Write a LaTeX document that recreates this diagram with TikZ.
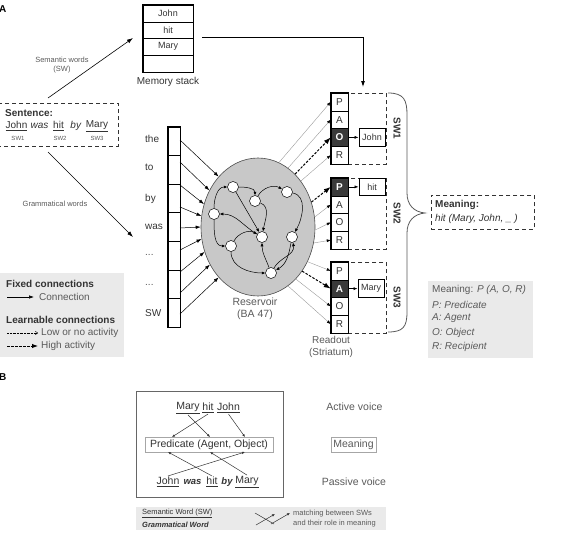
\documentclass[tikz,border=0pt]{standalone}
\usepackage{fontspec}
\setmainfont{Liberation Sans}
\usetikzlibrary{shapes.geometric,arrows.meta}
\definecolor{txt}{HTML}{333333}
\definecolor{lbl}{HTML}{5A5A5A}
\definecolor{legbg}{HTML}{EAEAEA}
\definecolor{resfill}{HTML}{C8C8C8}
\definecolor{darkcell}{HTML}{3A3A3A}
\definecolor{thinc}{HTML}{9A9A9A}
\tikzset{
  fs/.style={font=\fontsize{10}{12}\selectfont},
  fsb/.style={font=\bfseries\fontsize{10}{12}\selectfont},
  small/.style={font=\fontsize{7.5}{9}\selectfont, text=lbl},
  arr/.style={-{Latex[length=6pt,width=4pt]}, line width=0.6pt, draw=black},
  cell/.style={draw, line width=0.5pt, minimum width=17pt, minimum height=17.75pt, inner sep=0pt, font=\fontsize{10}{12}\selectfont, text=txt},
  darkc/.style={fill=darkcell, text=white, font=\bfseries\fontsize{10}{12}\selectfont},
  weak/.style={draw=thinc, line width=0.4pt, -{Latex[length=4pt,width=3pt,color=black]}},
  strong/.style={draw=black, line width=1pt, dash pattern=on 2.5pt off 1.5pt, -{Latex[length=7pt,width=5pt]}},
  neuron/.style={circle, draw, fill=white, minimum size=11pt, inner sep=0pt, line width=0.5pt},
  net/.style={line width=0.5pt, -{Latex[length=3.5pt,width=3pt]}},
  valbox/.style={draw, line width=0.8pt, minimum width=26pt, minimum height=17.75pt, inner sep=0pt, font=\fontsize{9}{11}\selectfont, text=txt},
  dbox/.style={draw, dash pattern=on 4pt off 3pt, line width=0.6pt, draw=black!80, minimum width=38pt, minimum height=71pt, anchor=north west, inner sep=0pt},
  word/.style={inner sep=1pt, font=\fontsize{10}{12}\selectfont, text=txt},
  bword/.style={inner sep=1pt, font=\fontsize{10.5}{12}\selectfont, text=txt},
  bl/.style={line width=0.5pt, draw=txt, -{Latex[length=3pt,width=2.5pt]}},
}
\begin{document}
\begin{tikzpicture}[x=1pt,y=-1pt]
\useasboundingbox (0,0) rectangle (564,535);

% ---------- Panel labels
\node[fsb, anchor=west, inner sep=0pt] (labA) at (-1,9) {A};
\node[fsb, anchor=west, inner sep=0pt] (labB) at (-1,377) {B};

% ---------- Memory stack
\node[cell, minimum width=50pt, minimum height=17pt, font=\fontsize{9}{11}\selectfont] (m1) at (168,13.5) {John};
\node[cell, minimum width=50pt, minimum height=16.5pt, font=\fontsize{9}{11}\selectfont] (m2) at (168,30.25) {hit};
\node[cell, minimum width=50pt, minimum height=16.5pt, font=\fontsize{9}{11}\selectfont] (m3) at (168,46.75) {Mary};
\node[cell, minimum width=50pt, minimum height=17pt] (m4) at (168,63.5) {};
\draw[line width=1.3pt] (m1.north west) rectangle (m4.south east);
\node[fs, text=txt] (mslab) at (168,82) {Memory stack};

% ---------- Sentence box
\node[draw, dash pattern=on 4pt off 3pt, line width=0.6pt, draw=black!80, minimum width=121pt, minimum height=43pt, inner sep=0pt] (sent) at (57.5,124.5) {};
\node[fsb, text=txt, anchor=west, inner sep=0pt] (senth) at (5,113) {Sentence:};
\node[word] (sJohn) at (16.5,126) {\underline{John}};
\node[word] (sWas) at (39.5,126) {\textit{was}};
\node[word] (sHit) at (58.5,126) {\underline{hit}};
\node[word] (sBy) at (76,126) {\textit{by}};
\node[word] (sMary) at (97,126) {\underline{Mary}};
\node[font=\fontsize{6}{7}\selectfont, text=lbl] (sw1s) at (18,138.5) {SW1};
\node[font=\fontsize{6}{7}\selectfont, text=lbl] (sw2s) at (60,138.5) {SW2};
\node[font=\fontsize{6}{7}\selectfont, text=lbl] (sw3s) at (97,138.5) {SW3};

% arrows from sentence
\coordinate (semS) at (48,98);
\coordinate (semE) at (133,38);
\draw[arr] (semS) -- (semE);
\node[small, align=center, font=\fontsize{7.5}{9}\selectfont] (semlab) at (62,65) {Semantic words\\(SW)};
\coordinate (gramS) at (48,152);
\coordinate (gramE) at (133,237);
\draw[arr] (gramS) -- (gramE);
\node[small, font=\fontsize{7.5}{9}\selectfont] (gramlab) at (55,204) {Grammatical words};

% ---------- Input column
\foreach \i in {0,...,6} {
  \node[draw, line width=0.5pt, minimum width=12pt, minimum height=28.57pt, inner sep=0pt] (c\i) at (174,{127+28.57*\i+14.285}) {};
}
\draw[line width=1.2pt] (c0.north west) rectangle (c6.south east);
\node[word, anchor=west] (lthe) at (144,139) {the};
\node[word, anchor=west] (lto) at (144,167) {to};
\node[word, anchor=west] (lby) at (144,199) {by};
\node[word, anchor=west] (lwas) at (144,227) {was};
\node[word, anchor=west, text=lbl] (ld1) at (144,255) {...};
\node[word, anchor=west, text=lbl] (ld2) at (144,285) {...};
\node[word, anchor=west] (lsw) at (144,313) {SW};

% ---------- Reservoir
\node[ellipse, draw=black!70, fill=resfill, line width=0.6pt, minimum width=114pt, minimum height=138pt, inner sep=0pt] (res) at (258,227) {};
\node[font=\fontsize{10.5}{12}\selectfont, text=lbl, align=center] (reslab) at (255,308.5) {Reservoir\\(BA 47)};

% input arrows
\foreach \y/\a [count=\k] in {140/128, 162/143, 185/157, 207/169, 228/180, 250/192, 272/205, 293/218, 314/232} {
  \coordinate (in\k) at (180,\y);
  \draw[line width=0.5pt, -{Latex[length=5pt,width=3.5pt]}] (in\k) -- (res.\a);
}

% neurons
\node[neuron] (n1) at (233,187) {};
\node[neuron] (n2) at (255,201) {};
\node[neuron] (n3) at (287,192) {};
\node[neuron] (n4) at (214,214) {};
\node[neuron] (n5) at (262,237) {};
\node[neuron] (n6) at (292,237) {};
\node[neuron] (n7) at (231,246) {};
\node[neuron] (n8) at (271,273) {};
\draw[net] (n1) to[out=0,in=90] (n2);
\draw[net] (n4) to[out=90,in=180] (n1);
\draw[net] (n2) to[out=60,in=150] (n3);
\draw[net] (n2) to[out=-20,in=80] (n5);
\draw[net] (n3) to[out=-10,in=60] (n6);
\draw[net] (n6) to[out=-100,in=30] (n8);
\draw[net] (n7) to[out=-90,in=180] (n8);
\draw[net] (n5) to[out=150,in=0] (n4);
\draw[net] (n4) to[out=-90,in=180] (n7);
\draw[net] (n7) to[out=60,in=150] (n5);
\draw[net] (n8) to[out=110,in=-90] (n5);
\draw[net] (n8) to[out=60,in=-80] (n6);
\draw[net] (n1) to[out=-60,in=120] (n5);

% ---------- Readout blocks
\node[dbox] (d1) at (348,93) {};
\node[dbox] (d2) at (348,178) {};
\node[dbox] (d3) at (348,262) {};
\foreach \b/\t in {1/93, 2/178, 3/262} {
  \foreach \l [count=\k from 0] in {P,A,O,R} {
    \node[cell] (b\b\l) at (339.5,{\t+8.875+17.75*\k}) {\l};
  }
}
\node[cell, darkc] (b1O) at (b1O) {O};
\node[cell, darkc] (b2P) at (b2P) {P};
\node[cell, darkc] (b3A) at (b3A) {A};
\foreach \b in {1,2,3} {
  \draw[line width=1.2pt] (b\b P.north west) rectangle (b\b R.south east);
}
\node[valbox] (vJohn) at (372,{93+8.875+35.5}) {John};
\node[valbox] (vHit) at (372,{178+8.875}) {hit};
\node[valbox] (vMary) at (371,{262+8.875+17.75}) {Mary};
\draw[line width=0.6pt, -{Latex[length=4pt,width=3pt]}] (b1O.east) -- (vJohn.west);
\draw[line width=0.6pt, -{Latex[length=4pt,width=3pt]}] (b2P.east) -- (vHit.west);
\draw[line width=0.6pt, -{Latex[length=4pt,width=3pt]}] (b3A.east) -- (vMary.west);

\node[fsb, rotate=-90, text=txt] (swl1) at (397,128.5) {SW1};
\node[fsb, rotate=-90, text=txt] (swl2) at (397,213.5) {SW2};
\node[fsb, rotate=-90, text=txt] (swl3) at (397,297.5) {SW3};

\node[font=\fontsize{10}{12}\selectfont, text=lbl, align=center] (rolab) at (331,347) {Readout\\(Striatum)};

% reservoir -> readout
\draw[weak] (res.72) -- (b1P.west);
\draw[weak] (res.63) -- (b1A.west);
\draw[strong] (res.55) -- (b1O.west);
\draw[weak] (res.47) -- (b1R.west);
\draw[strong] (res.25) -- (b2P.west);
\draw[weak] (res.10) -- (b2A.west);
\draw[weak] (res.-3) -- (b2O.west);
\draw[weak] (res.-16) -- (b2R.west);
\draw[weak] (res.-35) -- (b3P.west);
\draw[strong] (res.-45) -- (b3A.west);
\draw[weak] (res.-54) -- (b3O.west);
\draw[weak] (res.-63) -- (b3R.west);

% memory stack -> readout
\coordinate (msS) at (202,37);
\coordinate (msE) at (363,87);
\draw[line width=0.8pt, -{Latex[length=6pt,width=4pt]}] (msS) -| (msE);

% brace
\draw[line width=0.8pt, draw=black!65] (388,93) .. controls (404,93) and (407,100) .. (407,115) -- (407,193)
  .. controls (407,205) and (414,212) .. (425,213) .. controls (414,214) and (407,221) .. (407,233)
  -- (407,312) .. controls (407,327) and (403,332) .. (388,332);

% meaning box
\node[draw, dash pattern=on 4pt off 3pt, line width=0.6pt, draw=black!80, minimum width=103pt, minimum height=34pt, anchor=north west, inner sep=0pt] (mean) at (431,195) {};
\node[fsb, text=txt, anchor=west, inner sep=0pt] (meanh) at (435,205) {Meaning:};
\node[fs, text=txt, anchor=west, inner sep=0pt] (meant) at (435,219) {\textit{hit (Mary, John, \_ )}};

% right legend
\node[fill=legbg, minimum width=105pt, minimum height=77pt, anchor=north west, inner sep=0pt] (rleg) at (428,281) {};
\node[fs, text=lbl, anchor=west, inner sep=0pt] (rl1) at (432,290) {Meaning: \textit{P (A, O, R)}};
\node[fs, text=lbl, anchor=west, inner sep=0pt] (rl2) at (432,305) {\textit{P: Predicate}};
\node[fs, text=lbl, anchor=west, inner sep=0pt] (rl3) at (432,318.5) {\textit{A: Agent}};
\node[fs, text=lbl, anchor=west, inner sep=0pt] (rl4) at (432,333) {\textit{O: Object}};
\node[fs, text=lbl, anchor=west, inner sep=0pt] (rl5) at (432,347) {\textit{R: Recipient}};

% left legend
\node[fill=legbg, minimum width=124pt, minimum height=84pt, anchor=north west, inner sep=0pt] (lleg) at (0,273) {};
\node[fsb, text=txt, anchor=west, inner sep=0pt] (ll1) at (6,284) {Fixed connections};
\coordinate (la1) at (7,297); \coordinate (lb1) at (34,297);
\draw[line width=0.6pt, -{Latex[length=5pt,width=3.5pt]}] (la1) -- (lb1);
\node[fs, text=lbl, anchor=west, inner sep=0pt] (ll2) at (39,297) {Connection};
\node[fsb, text=txt, anchor=west, inner sep=0pt] (ll3) at (6,320) {Learnable connections};
\coordinate (la2) at (7,333); \coordinate (lb2) at (38,333);
\draw[line width=0.4pt, densely dotted, -{To[length=3pt,width=4pt]}] (la2) -- (lb2);
\node[fs, text=lbl, anchor=west, inner sep=0pt] (ll4) at (41,333) {Low or no activity};
\coordinate (la3) at (7,346); \coordinate (lb3) at (38,346);
\draw[strong, -{Latex[length=6pt,width=4.5pt]}] (la3) -- (lb3);
\node[fs, text=lbl, anchor=west, inner sep=0pt] (ll5) at (41,346) {High activity};

% ---------- Panel B
\node[draw, draw=black!60, line width=0.6pt, minimum width=147pt, minimum height=106pt, anchor=north west, inner sep=0pt] (bframe) at (136,391) {};
\node[bword] (uMary) at (188,408) {\underline{Mary}};
\node[bword] (uHit) at (208,408) {\underline{hit}};
\node[bword] (uJohn) at (228.5,408) {\underline{John}};
\node[draw=black!35, line width=0.6pt, minimum width=128pt, minimum height=15pt, inner sep=0pt, font=\fontsize{10.5}{12}\selectfont, text=txt] (pred) at (209,444.5) {Predicate (Agent, Object)};
\node[bword] (lJohn) at (168,482) {\underline{John}};
\node[bword, font=\bfseries\itshape\fontsize{9.5}{11}\selectfont] (lWas) at (192.5,482) {was};
\node[bword] (lHit) at (212,482) {\underline{hit}};
\node[bword, font=\bfseries\itshape\fontsize{9.5}{11}\selectfont] (lBy) at (227,482) {by};
\node[bword] (lMary) at (247,482) {\underline{Mary}};
\coordinate (predT) at (172,437);
\coordinate (agentT) at (210,437);
\coordinate (objT) at (245,437);
\coordinate (predB) at (168,452);
\coordinate (agentB) at (210,452);
\coordinate (objB) at (245,452);
\draw[bl] (uMary.south) -- (agentT);
\draw[bl] (uHit.south) -- (predT);
\draw[bl] (uJohn.south) -- (objT);
\draw[bl] (lJohn.north) -- (objB);
\draw[bl] (lHit.north) -- (predB);
\draw[bl] (lMary.north) -- (agentB);

\node[font=\fontsize{10.5}{12}\selectfont, text=lbl] (actv) at (354.5,407) {Active voice};
\node[draw=black!35, line width=0.6pt, minimum width=45pt, minimum height=15pt, inner sep=0pt, font=\fontsize{10.5}{12}\selectfont, text=lbl] (meanB) at (353.5,444.5) {Meaning};
\node[font=\fontsize{10.5}{12}\selectfont, text=lbl] (pasv) at (354,482) {Passive voice};

% bottom legend strip
\node[fill=legbg, minimum width=250pt, minimum height=23pt, anchor=north west, inner sep=0pt] (bleg) at (136,507) {};
\node[font=\fontsize{7.5}{9}\selectfont, text=txt, anchor=west, inner sep=0pt] (bl1) at (142,513.5) {\underline{Semantic Word (SW)}};
\node[font=\fontsize{7.5}{9}\selectfont, text=txt, anchor=west, inner sep=0pt] (bl2) at (142,524.5) {\textit{\textbf{Grammatical Word}}};
\coordinate (x1a) at (255,513); \coordinate (x1b) at (274,524);
\coordinate (x2a) at (256,525); \coordinate (x2b) at (275,514);
\coordinate (x3a) at (271,524); \coordinate (x3b) at (290,513);
\draw[line width=0.5pt, draw=txt] (x1a) -- (x1b);
\draw[line width=0.5pt, draw=txt, -{Latex[length=3pt,width=2.5pt]}] (x2a) -- (x2b);
\draw[line width=0.5pt, draw=txt, -{Latex[length=3pt,width=2.5pt]}] (x3a) -- (x3b);
\node[font=\fontsize{7.5}{9}\selectfont, text=lbl, anchor=west, inner sep=0pt] (bl3) at (293,514) {matching between SWs};
\node[font=\fontsize{7.5}{9}\selectfont, text=lbl, anchor=west, inner sep=0pt] (bl4) at (293,523.5) {and their role in meaning};
\end{tikzpicture}
\end{document}
